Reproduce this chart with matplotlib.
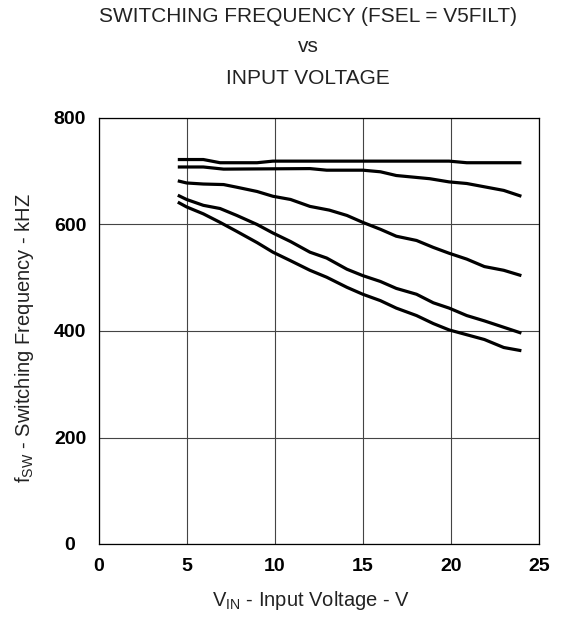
#!/usr/bin/env python3
# plot.py - switching frequency vs input voltage (FSEL = V5FILT)

import matplotlib
matplotlib.use("Agg")
import matplotlib.pyplot as plt

plt.rcParams["font.family"] = ["Liberation Sans", "DejaVu Sans"]
plt.rcParams["mathtext.fontset"] = "custom"
plt.rcParams["mathtext.rm"] = "Liberation Sans"

# input voltage (V) and switching frequency (kHz)
v_top = [4.5, 5.95, 6.9, 9.0, 9.9, 19.9, 20.9, 24.0]
f_top = [722, 722, 716, 716, 719, 719, 716, 716]

v_2 = [4.5, 5.95, 7.1, 12.0, 12.95, 15.0, 16.0, 16.9, 18.8, 19.9, 20.9, 23.0, 24.0]
f_2 = [708, 708, 704, 705, 702, 702, 699, 692, 686, 680, 677, 664, 653]

v_3 = [4.5, 5.0, 5.95, 7.1, 7.85, 9.0, 9.9, 10.9, 12.0, 13.1, 14.1, 15.0,
       16.0, 16.9, 18.05, 19.0, 19.9, 20.9, 21.9, 23.0, 24.0]
f_3 = [682, 678, 676, 675, 670, 662, 653, 647, 634, 627, 617, 604,
       591, 578, 570, 557, 546, 535, 521, 514, 504]

v_4 = [4.5, 5.0, 5.95, 6.9, 7.85, 9.0, 9.9, 10.9, 12.0, 12.95, 14.1, 15.0,
       16.0, 16.9, 18.05, 19.0, 19.9, 20.9, 21.9, 23.0, 24.0]
f_4 = [655, 647, 636, 630, 617, 600, 584, 568, 548, 537, 516, 504,
       493, 480, 469, 453, 443, 429, 419, 407, 396]

v_5 = v_4
f_5 = [642, 633, 620, 604, 587, 566, 548, 532, 514, 501, 482, 469,
       457, 443, 429, 414, 402, 393, 384, 369, 363]

x_ticks = [0, 5, 10, 15, 20, 25]
y_ticks = [0, 200, 400, 600, 800]

title_lines = ["SWITCHING FREQUENCY (FSEL = V5FILT)", "vs", "INPUT VOLTAGE"]


def main():
    W, H = 565, 618
    fig = plt.figure(figsize=(W / 100, H / 100), dpi=100)
    ax = fig.add_axes([98.5 / W, 1 - 544 / H, (539 - 98.5) / W, (544 - 118) / H])

    for v, f in [(v_top, f_top), (v_2, f_2), (v_3, f_3), (v_4, f_4), (v_5, f_5)]:
        ax.plot(v, f, color="black", linewidth=2.3, solid_capstyle="butt")

    ax.set_xlim(0, 25)
    ax.set_ylim(0, 800)
    ax.set_xticks(x_ticks)
    ax.set_yticks(y_ticks)
    ax.grid(True, color="#444444", linewidth=0.8)
    ax.set_axisbelow(True)
    for s in ax.spines.values():
        s.set_color("black")
        s.set_linewidth(0.9)

    ax.tick_params(axis="both", length=0)
    ax.tick_params(axis="y", pad=20.5)
    ax.tick_params(axis="x", pad=10)
    for lab in ax.get_yticklabels():
        lab.set_fontweight("bold")
        lab.set_fontsize(14)
        lab.set_horizontalalignment("center")
    for lab in ax.get_xticklabels():
        lab.set_fontweight("bold")
        lab.set_fontsize(14)

    # title block
    for i, (line, y) in enumerate(zip(title_lines, [17, 47, 79])):
        fig.text(308 / W, 1 - y / H, line, ha="center", va="center",
                 fontsize=15, color="#222222")

    fig.text(311 / W, 1 - 600 / H, r"V$_{\mathregular{IN}}$ - Input Voltage - V",
             ha="center", va="center", fontsize=14.5, color="#222222")
    fig.text(25 / W, 1 - 338 / H,
             r"f$_{\mathregular{SW}}$ - Switching Frequency - kHZ",
             ha="center", va="center", rotation=90, fontsize=14.5,
             color="#222222")

    fig.savefig("out.png", dpi=100)
    plt.close(fig)


if __name__ == "__main__":
    main()
